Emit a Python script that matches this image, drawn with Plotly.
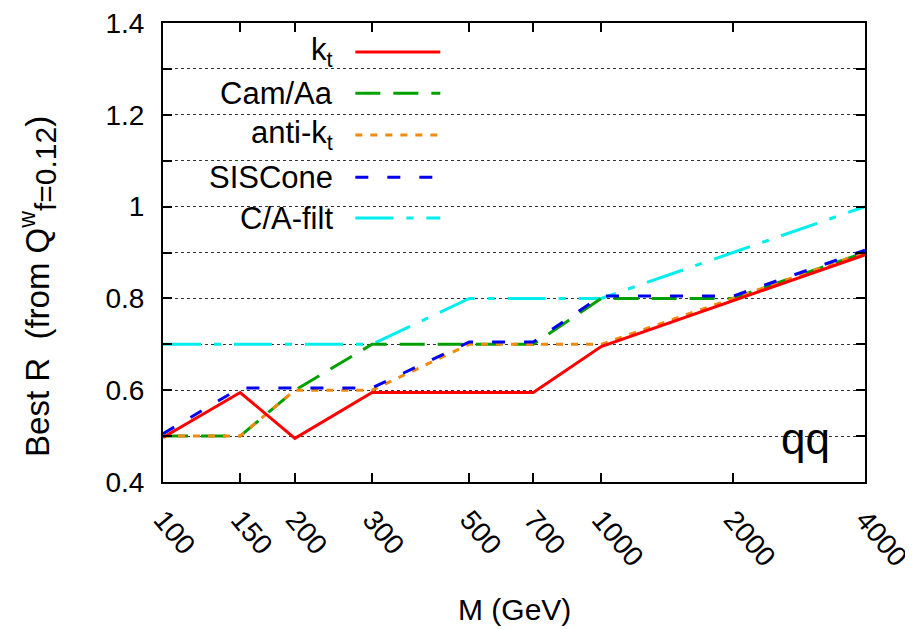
import plotly.graph_objects as go
import numpy as np

masses = [100, 150, 200, 300, 500, 700, 1000, 2000, 4000]
mass_labels = ["100", "150", "200", "300", "500", "700", "1000", "2000", "4000"]

r_kt = [0.497, 0.595, 0.495, 0.595, 0.595, 0.595, 0.695, 0.795, 0.895]
r_cam = [0.5, 0.5, 0.6, 0.7, 0.7, 0.7, 0.8, 0.8, 0.9]
r_antikt = [0.5, 0.5, 0.6, 0.6, 0.7, 0.7, 0.7, 0.8, 0.9]
r_siscone = [0.505, 0.605, 0.605, 0.605, 0.705, 0.705, 0.805, 0.805, 0.905]
r_cafilt = [0.7, 0.7, 0.7, 0.7, 0.8, 0.8, 0.8, 0.9, 1.0]

names = ["k<sub>t</sub>", "Cam/Aa", "anti-k<sub>t</sub>", "SISCone", "C/A-filt"]
series = [r_kt, r_cam, r_antikt, r_siscone, r_cafilt]
colors = ["#ff0000", "#00a000", "#f08a10", "#0000ee", "#00eeee"]
dashes = ["solid", "25px,13px", "7px,8px", "13px,19px", "38px,13px,7px,13px"]

FONT = "Liberation Sans"
fig = go.Figure()
order = [4, 1, 2, 3, 0]
for i in order:
    fig.add_trace(go.Scatter(x=masses, y=series[i], mode="lines", name=names[i],
                             line=dict(color=colors[i], width=3, dash=dashes[i]),
                             showlegend=False))

# legend background box
fig.add_shape(type="rect", xref="paper", yref="paper", x0=0.024, x1=0.447,
              y0=0.538, y1=0.985, fillcolor="white", line=dict(width=0), layer="between")

leg_y = [0.937, 0.847, 0.756, 0.664, 0.575]
for k in range(5):
    fig.add_annotation(x=0.245, y=leg_y[k], xref="paper", yref="paper", text=names[k],
                       showarrow=False, xanchor="right", yanchor="middle",
                       font=dict(family=FONT, size=31, color="black"))
    fig.add_shape(type="line", xref="paper", yref="paper", x0=0.274, x1=0.395,
                  y0=leg_y[k], y1=leg_y[k], line=dict(color=colors[k], width=3, dash=dashes[k]))

fig.add_annotation(x=0.915, y=0.095, xref="paper", yref="paper", text="qq", showarrow=False,
                   xanchor="center", yanchor="middle", font=dict(family=FONT, size=44, color="black"))

# axis titles as annotations
fig.add_annotation(x=0.5, y=-0.2767, xref="paper", yref="paper", text="M (GeV)",
                   showarrow=False, xanchor="center", yanchor="middle", borderpad=0,
                   font=dict(family=FONT, size=30, color="black"))
fig.add_annotation(x=-0.178, y=0.425, xref="paper", yref="paper", textangle=-90,
                   text="Best R  (from Q<sup>w</sup><sub><span style='font-size:30px'>f=0.12</span></sub>)",
                   showarrow=False, xanchor="center", yanchor="middle",
                   font=dict(family=FONT, size=33, color="black"))

fig.update_layout(
    width=905, height=621,
    margin=dict(l=155, r=48, t=15, b=147),
    paper_bgcolor="white", plot_bgcolor="white",
    font=dict(family=FONT, size=28, color="black"),
)
fig.update_xaxes(type="log", range=[2, np.log10(4000)], tickvals=masses, ticktext=mass_labels,
                 tickangle=50, ticks="inside", ticklen=9, tickwidth=1.5, tickcolor="black",
                 tickfont=dict(family=FONT, size=28, color="black"),
                 showline=True, linecolor="black", linewidth=2, mirror="ticks",
                 showgrid=False, zeroline=False, ticklabelstandoff=8, automargin=False,
                 ticklabeloverflow="allow")
fig.update_yaxes(range=[0.4, 1.4], tickvals=[0.4, 0.6, 0.8, 1.0, 1.2, 1.4],
                 ticktext=["0.4", "0.6", "0.8", "1", "1.2", "1.4"],
                 tickfont=dict(family=FONT, size=28, color="black"),
                 ticks="inside", ticklen=9, tickwidth=1.5, tickcolor="black",
                 showline=True, linecolor="black", linewidth=2, mirror="ticks",
                 showgrid=True, gridcolor="#333333", gridwidth=1, griddash="dot",
                 minor=dict(tickvals=[0.5, 0.7, 0.9, 1.1, 1.3], ticks="inside", ticklen=9,
                            tickcolor="black", showgrid=True, gridcolor="#333333",
                            griddash="dot", gridwidth=1),
                 zeroline=False, ticklabelstandoff=11, automargin=False,
                 ticklabeloverflow="allow")

fig.write_html("out.html")
